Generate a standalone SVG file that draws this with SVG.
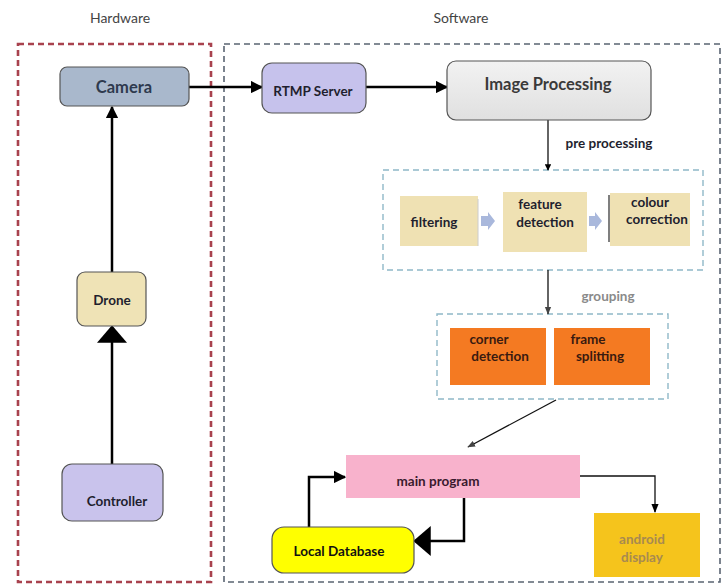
<svg xmlns="http://www.w3.org/2000/svg" width="726" height="586" viewBox="0 0 726 586">
<style>
  text { font-family: Lato, "Open Sans", "Liberation Sans", sans-serif; font-weight: bold; font-size: 13.5px; fill: #1f1f2e; text-anchor: middle; }
  .title { font-weight: normal; font-size: 14px; fill: #444; }
  .big { font-size: 16.5px; }
  .node { stroke: #555; stroke-width: 1.2; }
  .flat { stroke: none; }
  .line { fill: none; stroke: #000; stroke-width: 2.5; }
  .thin { fill: none; stroke: #111; stroke-width: 1.3; }
  .dashbox { fill: none; stroke-dasharray: 6 4; }
</style>
<defs>
  <marker id="ah" viewBox="0 0 10 10" refX="9" refY="5" markerWidth="5" markerHeight="5" orient="auto" markerUnits="strokeWidth">
    <path d="M0,0 L10,5 L0,10 z" fill="#000"/>
  </marker>
  <marker id="ahs" viewBox="0 0 10 10" refX="9" refY="5" markerWidth="7" markerHeight="7" orient="auto" markerUnits="strokeWidth">
    <path d="M0,1 L10,5 L0,9 z" fill="#000"/>
  </marker>
  <marker id="ahw" viewBox="0 0 10 10" refX="9" refY="5" markerWidth="7" markerHeight="12" orient="auto" markerUnits="strokeWidth" preserveAspectRatio="none">
    <path d="M0,0 L10,5 L0,10 z" fill="#000"/>
  </marker>
  <marker id="ahg" viewBox="0 0 10 10" refX="9" refY="5" markerWidth="6" markerHeight="6" orient="auto" markerUnits="strokeWidth">
    <path d="M0,1 L10,5 L0,9 z" fill="#444"/>
  </marker>
  <linearGradient id="ipg" x1="0" y1="0" x2="0" y2="1">
    <stop offset="0" stop-color="#f2f2f2"/>
    <stop offset="1" stop-color="#e0e0e0"/>
  </linearGradient>
</defs>

<g id="titles">
  <text class="title" x="120" y="23">Hardware</text>
  <text class="title" x="461" y="23">Software</text>
</g>

<g id="groups">
  <rect id="hardware-box" class="dashbox" x="18" y="44" width="193" height="538" stroke="#a8424e" stroke-width="2.6" stroke-dasharray="7 5"/>
  <rect id="software-box" class="dashbox" x="224" y="44" width="496" height="538" stroke="#5a6472" stroke-width="1.6" stroke-dasharray="5 3"/>
  <rect id="preprocessing-box" class="dashbox" x="383" y="170" width="320" height="100" stroke="#8fb8c8" stroke-width="1.4" stroke-dasharray="5 3"/>
  <rect id="grouping-box" class="dashbox" x="437" y="314" width="231" height="85" stroke="#8fb8c8" stroke-width="1.4" stroke-dasharray="5 3"/>
</g>

<g id="connectors">
  <line class="line" x1="189" y1="87" x2="262" y2="87" marker-end="url(#ah)"/>
  <line class="line" x1="366" y1="87" x2="447" y2="87" marker-end="url(#ah)"/>
  <line class="line" x1="112" y1="272" x2="112" y2="107" marker-end="url(#ah)"/>
  <line class="line" x1="112" y1="464" x2="112" y2="327" marker-end="url(#ahw)"/>
  <line class="thin" x1="548" y1="120" x2="548" y2="170" marker-end="url(#ah)"/>
  <line class="thin" x1="548" y1="270" x2="548" y2="314" marker-end="url(#ahg)"/>
  <line class="thin" x1="556" y1="400" x2="468" y2="447" stroke="#444" marker-end="url(#ahg)"/>
  <polyline class="line" points="309,527 309,477 345,477" marker-end="url(#ah)"/>
  <polyline class="line" points="464,498 464,541 415,541" marker-end="url(#ahw)"/>
  <polyline class="thin" points="580,476 655,476 655,512" stroke-width="1.6" marker-end="url(#ahs)"/>
  <path d="M481,216 L488,216 L488,212 L495,221 L488,230 L488,226 L481,226 z" fill="#a9b8dc"/>
  <path d="M589,216 L595,216 L595,212 L602,221 L595,230 L595,226 L589,226 z" fill="#a9b8dc"/>
</g>

<g id="pre-processing-label"><text x="609" y="148">pre processing</text></g>
<g id="grouping-label"><text x="608" y="301" style="fill:#8a8a8a">grouping</text></g>

<g id="camera">
  <rect class="node" x="60" y="67" width="129" height="39" rx="7" fill="#a9b8cc"/>
  <text class="big" x="124" y="93" style="fill:#2e3a4e">Camera</text>
</g>
<g id="rtmp-server">
  <rect class="node" x="262" y="63" width="104" height="50" rx="10" fill="#c6c2ec"/>
  <text x="313" y="96">RTMP Server</text>
</g>
<g id="image-processing">
  <rect class="node" x="447" y="61" width="204" height="59" rx="9" fill="url(#ipg)"/>
  <text class="big" x="548" y="90" style="fill:#3a3a3a">Image Processing</text>
</g>
<g id="filtering">
  <rect class="flat" x="400" y="196" width="78" height="50" fill="#efe1b3"/>
  <line x1="478" y1="199" x2="478" y2="246" stroke="#ccc" stroke-width="1"/>
  <text x="434" y="227">filtering</text>
</g>
<g id="feature-detection">
  <rect class="flat" x="503" y="192" width="84" height="60" fill="#efe1b3"/>
  <text x="540" y="209">feature</text>
  <text x="545" y="227">detection</text>
</g>
<g id="colour-correction">
  <rect class="flat" x="610" y="193" width="80" height="53" fill="#efe1b3"/>
  <line x1="609" y1="195" x2="609" y2="242" stroke="#555" stroke-width="1.5"/>
  <text x="650" y="207">colour</text>
  <text x="657" y="224">correction</text>
</g>
<g id="corner-detection">
  <rect class="flat" x="450" y="328" width="96" height="57" fill="#f47a22"/>
  <text x="489" y="344" style="fill:#3a1a10">corner</text>
  <text x="500" y="361" style="fill:#3a1a10">detection</text>
</g>
<g id="frame-splitting">
  <rect class="flat" x="554" y="328" width="96" height="57" fill="#f47a22"/>
  <text x="588" y="344" style="fill:#3a1a10">frame</text>
  <text x="600" y="361" style="fill:#3a1a10">splitting</text>
</g>
<g id="main-program">
  <rect class="flat" x="346" y="455" width="234" height="43" fill="#f8b2cc"/>
  <text x="438" y="486" style="fill:#3a1a2e">main program</text>
</g>
<g id="android-display">
  <rect class="flat" x="594" y="513" width="106" height="64" fill="#f5c41c"/>
  <text x="642" y="544" style="fill:#a88a50">android</text>
  <text x="642" y="562" style="fill:#a88a50">display</text>
</g>
<g id="local-database">
  <rect class="node" x="272" y="527" width="142" height="46" rx="12" fill="#ffff00"/>
  <text x="339" y="556" style="fill:#111">Local Database</text>
</g>
<g id="drone">
  <rect class="node" x="77" y="272" width="69" height="54" rx="8" fill="#efe3b6"/>
  <text x="112" y="305">Drone</text>
</g>
<g id="controller">
  <rect class="node" x="62" y="464" width="101" height="57" rx="10" fill="#c9c3ec"/>
  <text x="117" y="506">Controller</text>
</g>
</svg>
